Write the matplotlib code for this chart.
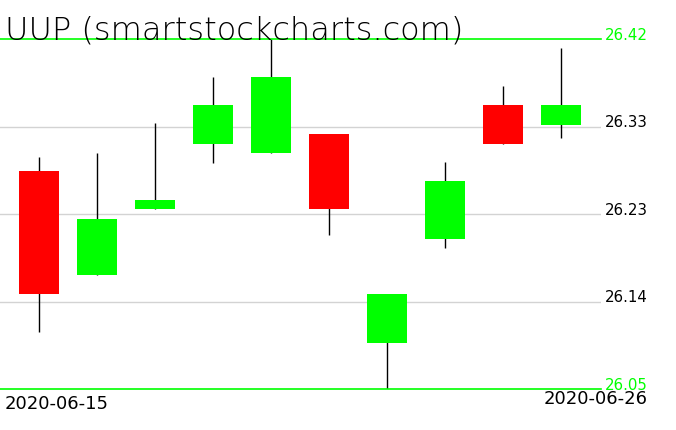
import matplotlib
matplotlib.use("Agg")
import matplotlib.pyplot as plt
import numpy as np

# daily candles, 2020-06-15 .. 2020-06-26
dates = ["2020-06-15", "2020-06-16", "2020-06-17", "2020-06-18", "2020-06-19",
         "2020-06-22", "2020-06-23", "2020-06-24", "2020-06-25", "2020-06-26"]
opens = [26.280, 26.170, 26.240, 26.309, 26.299, 26.320, 26.099, 26.209, 26.350, 26.329]
highs = [26.295, 26.300, 26.331, 26.380, 26.420, 26.320, 26.150, 26.290, 26.370, 26.410]
lows = [26.110, 26.170, 26.240, 26.289, 26.299, 26.213, 26.050, 26.199, 26.309, 26.315]
closes = [26.150, 26.230, 26.250, 26.350, 26.380, 26.240, 26.150, 26.270, 26.309, 26.350]

title = "UUP (smartstockcharts.com)"

GREEN = "#00ff00"
RED = "#ff0000"
GRID = "#d3d3d3"

fig = plt.figure(figsize=(6.76, 4.31), dpi=100)
W, H = 676, 431
ax = fig.add_axes([0, (H - 390) / H, 601 / W, 350 / H])

x = np.arange(len(dates))
o = np.array(opens)
c = np.array(closes)
colors = [GREEN if cc >= oo else RED for oo, cc in zip(o, c)]

lo_p, hi_p = min(lows), max(highs)
ax.set_ylim(lo_p, hi_p)
ax.set_xlim(-39 / 58, (601 - 39) / 58)

lab_x = 1.0 + 4 / 601

# grid levels between the low and high
levels = np.linspace(lo_p, hi_p, 5)
for lv in levels[1:-1]:
    ax.axhline(lv, color=GRID, lw=1, zorder=0)
    ax.text(lab_x, lv, f"{lv:.2f}", transform=ax.get_yaxis_transform(),
            ha="left", va="baseline", fontsize=10.8, color="black", clip_on=False)
for lv in (levels[0], levels[-1]):
    ax.axhline(lv, color=GREEN, lw=1.2, zorder=3, clip_on=False)
    ax.text(lab_x, lv, f"{lv:.2f}", transform=ax.get_yaxis_transform(),
            ha="left", va="baseline", fontsize=10.8, color=GREEN, clip_on=False)

# wicks and bodies
ax.vlines(x, lows, highs, color="black", lw=1, zorder=1)
ax.bar(x, np.abs(c - o), bottom=np.minimum(o, c), width=40 / 58,
       color=colors, zorder=2)

ax.axis("off")

fig.text(5 / W, 1 - 40 / H, title, ha="left", va="baseline",
         fontsize=23, color="black", family="DejaVu Sans", fontweight="light")

fig.text(5 / W, 1 - 395 / H, dates[0], ha="left", va="top", fontsize=13)
fig.text(648 / W, 1 - 390 / H, dates[-1], ha="right", va="top", fontsize=13)

fig.savefig("out.png", dpi=100, facecolor="white")
